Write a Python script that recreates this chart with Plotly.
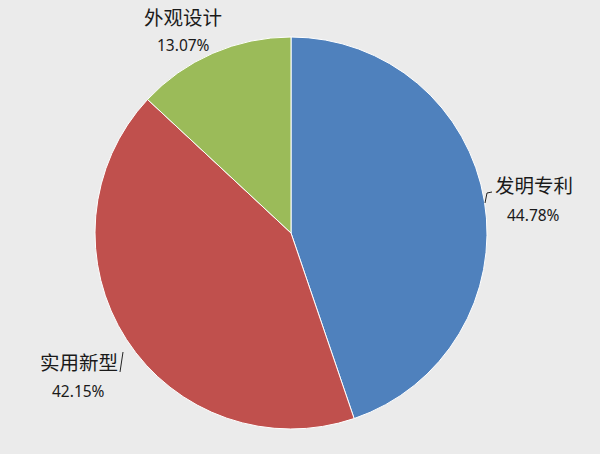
import plotly.graph_objects as go

categories = ["发明专利", "实用新型", "外观设计"]
values = [44.78, 42.15, 13.07]
colors = ["#4F81BD", "#C0504D", "#9BBB59"]

W, H = 600, 454
cx, cy, r = 291, 233, 196

fig = go.Figure(go.Pie(
    labels=categories, values=values, sort=False, direction="clockwise",
    rotation=0, textinfo="none", hoverinfo="label+percent",
    marker=dict(colors=colors, line=dict(color="white", width=1)),
    domain=dict(x=[(cx - r) / W, (cx + r) / W], y=[(H - cy - r) / H, (H - cy + r) / H]),
    showlegend=False,
))

# label placements (pixel positions of label centres)
name_pos = [(534, 185), (79, 361), (183, 16)]
pct_pos = [(533, 215), (79, 391), (183, 45)]

def px(x, y):
    return x / W, 1 - y / H

anns = []
for name, v, (nx, ny), (qx, qy) in zip(categories, values, name_pos, pct_pos):
    ax, ay = px(nx, ny)
    anns.append(dict(x=ax, y=ay, xref="paper", yref="paper", text=name, showarrow=False,
                     font=dict(family="Noto Sans CJK SC", size=19.5, color="#1a1a1a"),
                     xanchor="center", yanchor="middle"))
    bx, by = px(qx, qy)
    anns.append(dict(x=bx, y=by, xref="paper", yref="paper", text=f"{v:.2f}%", showarrow=False,
                     font=dict(family="Noto Sans", size=15.5, color="#1a1a1a"),
                     xanchor="center", yanchor="middle"))

shapes = [
    dict(type="path", xref="paper", yref="paper",
         path="M {} {} L {} {} L {} {}".format(485 / W, 1 - 203 / H, 487 / W, 1 - 193 / H, 492 / W, 1 - 192 / H),
         line=dict(color="#222222", width=1)),
    dict(type="line", xref="paper", yref="paper",
         x0=120 / W, y0=1 - 372 / H, x1=123 / W, y1=1 - 352 / H,
         line=dict(color="#222222", width=1)),
]

fig.update_layout(
    width=W, height=H, margin=dict(l=0, r=0, t=0, b=0),
    paper_bgcolor="#EBEBEB", plot_bgcolor="#EBEBEB",
    annotations=anns, shapes=shapes,
)

fig.write_html("out.html", config={"displayModeBar": False},
               post_script="document.body.style.margin='0';document.body.style.background='#EBEBEB';")
